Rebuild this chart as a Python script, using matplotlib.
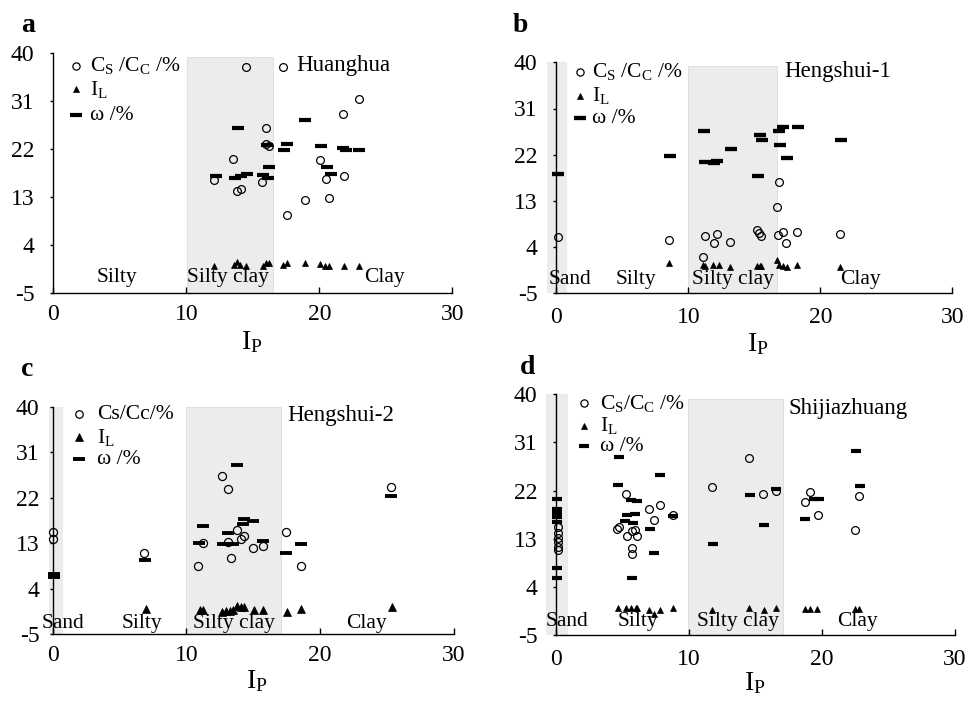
import matplotlib
matplotlib.use('Agg')
import matplotlib.pyplot as plt

plt.rcParams['font.family'] = ['Liberation Serif', 'DejaVu Serif']
plt.rcParams['mathtext.fontset'] = 'custom'
plt.rcParams['mathtext.rm'] = 'Liberation Serif'
plt.rcParams['mathtext.it'] = 'Liberation Serif:italic'
plt.rcParams['mathtext.bf'] = 'Liberation Serif:bold'

# ---------------- data ----------------
x_ticks = [0, 10, 20, 30]
y_ticks = [-5, 4, 13, 22, 31, 40]
soil_names = ["Sand", "Silty", "Silty clay", "Clay"]

# Panel a - Huanghua
a_cs_x = [14.5, 17.3, 23.0, 21.75, 16.0, 16.0, 16.2, 13.5, 20.05, 20.5, 21.85, 12.1, 15.7, 13.8, 14.1, 20.75, 18.9, 17.55]
a_cs_y = [37.5, 37.5, 31.5, 28.5, 26.05, 22.9, 22.5, 20.1, 19.85, 16.35, 17.0, 16.2, 15.9, 14.2, 14.55, 12.8, 12.5, 9.65]
a_w_x = [12.2, 13.85, 13.65, 14.15, 14.6, 15.8, 16.15, 16.2, 16.05, 17.35, 17.6, 18.9, 20.1, 20.55, 20.85, 21.8, 22.0, 23.0]
a_w_y = [17.0, 26.05, 16.65, 16.85, 17.35, 17.15, 16.65, 18.7, 22.7, 21.85, 22.9, 27.4, 22.65, 18.7, 17.35, 22.2, 21.9, 21.85]
a_il_x = [12.1, 13.55, 13.8, 14.05, 14.5, 15.75, 16.0, 16.2, 17.3, 17.6, 18.95, 20.05, 20.4, 20.75, 21.85, 22.95]
a_il_y = [0.0, 0.2, 0.7, 0.3, 0.0, 0.1, 0.5, 0.5, 0.3, 0.5, 0.5, 0.4, 0.1, 0.1, 0.1, 0.0]

# Panel b - Hengshui-1
b_cs_x = [0.13, 8.5, 11.25, 11.95, 12.2, 13.15, 11.1, 15.2, 15.35, 15.5, 16.9, 16.7, 16.8, 17.15, 17.4, 18.2, 21.5]
b_cs_y = [6.0, 5.4, 6.2, 4.75, 6.55, 5.05, 2.1, 7.3, 6.7, 6.15, 16.75, 11.75, 6.45, 6.95, 4.8, 6.95, 6.5]
b_w_x = [0.13, 8.6, 11.2, 11.25, 11.95, 12.2, 13.2, 15.4, 15.55, 15.3, 16.9, 17.2, 16.95, 17.45, 18.3, 21.6]
b_w_y = [18.25, 21.75, 26.6, 20.6, 20.3, 20.8, 23.05, 25.85, 24.9, 17.85, 26.7, 27.3, 23.8, 21.3, 27.3, 24.9]
b_il_x = [8.5, 11.1, 11.25, 11.9, 12.3, 13.15, 15.2, 15.4, 15.5, 16.7, 16.85, 17.15, 17.45, 18.2, 21.5]
b_il_y = [0.85, 0.6, 0.3, 0.5, 0.5, 0.1, 0.4, 0.4, 0.3, 1.5, 0.5, 0.3, 0.2, 0.5, 0.1]

# Panel c - Hengshui-2
c_cs_x = [0.05, 0.05, 6.85, 12.67, 13.07, 11.2, 10.9, 13.07, 13.3, 13.75, 14.07, 14.3, 14.95, 15.74, 17.44, 18.57, 25.3]
c_cs_y = [15.3, 13.8, 11.0, 26.25, 23.7, 13.05, 8.5, 13.3, 10.0, 15.6, 13.85, 14.35, 12.05, 12.4, 15.2, 8.5, 24.1]
c_w_x = [0.1, 0.1, 6.9, 10.96, 11.26, 13.1, 12.7, 13.45, 13.8, 14.2, 14.33, 14.95, 15.74, 17.47, 18.54, 25.3]
c_w_y = [6.4, 7.0, 9.6, 13.1, 16.35, 15.0, 12.8, 12.8, 28.4, 16.8, 17.7, 17.35, 13.5, 11.1, 12.8, 22.3]
c_il_x = [6.98, 11.05, 11.26, 12.63, 12.95, 13.25, 13.45, 13.75, 14.1, 14.33, 15.05, 15.74, 17.5, 18.55, 25.4]
c_il_y = [-0.05, -0.1, -0.1, -0.6, -0.4, -0.3, -0.2, 0.55, 0.4, 0.3, -0.2, -0.1, -0.5, 0.0, 0.35]

# Panel d - Shijiazhuang
d_cs_x = [0.1, 0.1, 0.1, 0.1, 0.1, 0.1, 5.22, 4.55, 4.72, 6.98, 7.83, 7.36, 5.35, 5.68, 5.95, 6.05,
          5.7, 5.7, 8.79, 11.75, 14.5, 15.6, 16.57, 18.73, 19.08, 19.7, 22.5, 22.8]
d_cs_y = [15.1, 14.0, 13.1, 12.3, 11.5, 10.8, 21.45, 14.9, 15.15, 18.5, 19.3, 16.45, 13.5, 14.45, 14.6, 13.5,
          11.35, 10.15, 17.4, 22.7, 28.0, 21.4, 21.9, 19.9, 21.7, 17.4, 14.6, 20.9]
d_w_x = [0.08, 0.08, 0.08, 0.08, 0.08, 0.08, 0.08, 0.08, 4.72, 4.63, 7.8, 5.65, 6.05, 5.35, 5.93, 5.17, 5.8,
         7.05, 7.38, 5.72, 8.8, 11.8, 14.56, 15.64, 16.57, 18.75, 19.4, 19.75, 22.6, 22.85]
d_w_y = [20.4, 18.6, 18.0, 17.5, 17.0, 16.2, 7.5, 5.6, 28.3, 23.05, 24.9, 20.3, 20.1, 17.4, 17.7, 16.4, 15.9,
         14.8, 10.3, 5.6, 17.2, 12.1, 21.2, 15.6, 22.35, 16.6, 20.4, 20.4, 29.4, 22.8]
d_il_x = [4.64, 5.22, 5.65, 5.97, 6.1, 6.98, 7.36, 7.8, 8.79, 11.75, 14.5, 15.64, 16.57, 18.7, 19.08, 19.66, 22.5, 22.77]
d_il_y = [0.0, 0.0, 0.0, 0.0, 0.0, -0.3, -1.05, -0.3, 0.0, -0.3, 0.0, -0.4, 0.0, -0.2, -0.2, -0.2, -0.2, -0.2]

site_names = ["Huanghua", "Hengshui-1", "Hengshui-2", "Shijiazhuang"]
panel_letters = ["a", "b", "c", "d"]
legend_labels = [
    ["C$_\\mathrm{S}$ /C$_\\mathrm{C}$ /%", "I$_\\mathrm{L}$", "\u03c9 /%"],
    ["C$_\\mathrm{S}$ /C$_\\mathrm{C}$ /%", "I$_\\mathrm{L}$", "\u03c9 /%"],
    ["Cs/Cc/%", "I$_\\mathrm{L}$", "\u03c9 /%"],
    ["C$_\\mathrm{S}$/C$_\\mathrm{C}$ /%", "I$_\\mathrm{L}$", "\u03c9 /%"],
]
# soil-class shaded spans (IP limits)
sand_span = [None, (-0.7, 0.8), (-0.25, 0.75), (-0.75, 0.88)]
clay_span = [(10.05, 16.5), (10.0, 16.7), (9.95, 17.05), (9.9, 17.05)]

# ---------------- layout ----------------
W, H = 966, 703
fig = plt.figure(figsize=(W / 100, H / 100), dpi=100)

panels = [
    dict(box=(40.0, 53.3, 452.3, 292.7), cs=(a_cs_x, a_cs_y), w=(a_w_x, a_w_y), il=(a_il_x, a_il_y),
         letter=(28, 25), xlab=(252, 349), title=(18.25, 37.7), clay_top=39.3,
         leg_mx=1.7, leg_tx=2.76, leg_y=[37.7, 33.25, 28.4],
         soil_x=[None, 4.8, 13.1, 24.9], soil_y=-2.2, xpad=8, ypad=11,
         cs_ms=5.6, il_ms=4.6, w_ms=8.0, w_mew=3.0),
    dict(box=(543.1, 62.3, 952.3, 293.3), cs=(b_cs_x, b_cs_y), w=(b_w_x, b_w_y), il=(b_il_x, b_il_y),
         letter=(520, 25), xlab=(758, 351), title=(17.3, 38.2), clay_top=39.3,
         leg_mx=1.8, leg_tx=2.7, leg_y=[38.2, 33.5, 29.1],
         soil_x=[1.0, 6.0, 13.4, 23.05], soil_y=-2.4, xpad=10, ypad=11,
         cs_ms=5.6, il_ms=4.4, w_ms=8.0, w_mew=3.1),
    dict(box=(39.3, 406.7, 454.0, 634.3), cs=(c_cs_x, c_cs_y), w=(c_w_x, c_w_y), il=(c_il_x, c_il_y),
         letter=(27, 369), xlab=(257, 688), title=(17.53, 38.2), clay_top=40.0,
         leg_mx=1.97, leg_tx=3.3, leg_y=[38.5, 34.0, 29.6],
         soil_x=[0.8, 6.65, 13.55, 23.47], soil_y=-2.9, xpad=8, ypad=7,
         cs_ms=5.8, il_ms=6.4, w_ms=8.0, w_mew=2.8),
    dict(box=(543.0, 394.3, 954.7, 635.0), cs=(d_cs_x, d_cs_y), w=(d_w_x, d_w_y), il=(d_il_x, d_il_y),
         letter=(528, 368), xlab=(755, 690), title=(17.45, 37.4), clay_top=39.2,
         leg_mx=2.09, leg_tx=3.3, leg_y=[38.3, 34.1, 30.3],
         soil_x=[0.8, 6.15, 13.68, 22.65], soil_y=-2.5, xpad=10, ypad=11,
         cs_ms=5.6, il_ms=4.4, w_ms=7.4, w_mew=3.0),
]

shade = '#ececec'
fs_tick = 17
fs_leg = 15.5

for i, p in enumerate(panels):
    l, t, r, b = p['box']
    ax = fig.add_axes([l / W, 1 - b / H, (r - l) / W, (b - t) / H])
    ax.set_xlim(-1, 30)
    ax.set_ylim(-5, 40)
    ax.patch.set_alpha(0)

    # shaded soil-class regions
    if sand_span[i] is not None:
        s0, s1 = sand_span[i]
        ax.fill_between([s0, s1], -5, 40, color=shade, lw=0, zorder=0)
    c0, c1 = clay_span[i]
    ax.fill_between([c0, c1], -5, p['clay_top'], facecolor=shade, edgecolor='#dcdcdc', lw=0.6, zorder=0)

    # data
    ax.plot(p['cs'][0], p['cs'][1], linestyle='none', marker='o', ms=p['cs_ms'],
            mfc='none', mec='black', mew=0.9, zorder=3, clip_on=False)
    ax.plot(p['il'][0], p['il'][1], linestyle='none', marker='^', ms=p['il_ms'],
            mfc='black', mec='black', mew=0.5, zorder=4, clip_on=False)
    ax.plot(p['w'][0], p['w'][1], linestyle='none', marker='_', ms=p['w_ms'],
            mec='black', mew=p['w_mew'], zorder=5, clip_on=False)

    # legend (manual)
    ly = p['leg_y']
    ax.plot([p['leg_mx']], [ly[0]], marker='o', ms=p['cs_ms'] - 0.4, mfc='none', mec='black', mew=0.9,
            linestyle='none', clip_on=False)
    ax.plot([p['leg_mx']], [ly[1]], marker='^', ms=p['il_ms'], mfc='black', mec='black', mew=0.5,
            linestyle='none', clip_on=False)
    ax.plot([p['leg_mx']], [ly[2]], marker='_', ms=p['w_ms'], mec='black', mew=p['w_mew'],
            linestyle='none', clip_on=False)
    for k in range(3):
        ax.text(p['leg_tx'], ly[k], legend_labels[i][k], fontsize=fs_leg, ha='left', va='center')

    # site title
    ax.text(p['title'][0], p['title'][1], site_names[i], fontsize=16.5, ha='left', va='center')

    # soil names
    for name, sx in zip(soil_names, p['soil_x']):
        if sx is not None:
            ax.text(sx, p['soil_y'], name, fontsize=15.5, ha='center', va='center', zorder=6)

    # axes styling
    for s in ['top', 'right']:
        ax.spines[s].set_visible(False)
    ax.spines['left'].set_position(('data', 0))
    ax.spines['bottom'].set_bounds(0, 30)
    for s in ['left', 'bottom']:
        ax.spines[s].set_linewidth(1.0)
        ax.spines[s].set_zorder(2.5)
    ax.set_xticks(x_ticks)
    ax.set_yticks(y_ticks)
    ax.set_xticklabels([str(v) for v in x_ticks])
    ax.set_yticklabels([str(v) for v in y_ticks])
    ax.tick_params(axis='x', direction='in', length=4.5, width=1.0, labelsize=fs_tick, pad=p['xpad'])
    ax.tick_params(axis='y', direction='out', length=2.5, width=1.0, labelsize=fs_tick, pad=p['ypad'])

    # x label and panel letter
    fig.text(p['xlab'][0] / W, 1 - p['xlab'][1] / H, "I$_\\mathrm{P}$", fontsize=20,
             ha='center', va='baseline')
    fig.text(p['letter'][0] / W, 1 - p['letter'][1] / H, panel_letters[i], fontsize=20,
             fontweight='bold', ha='center', va='center')

fig.savefig('out.png', dpi=100)
